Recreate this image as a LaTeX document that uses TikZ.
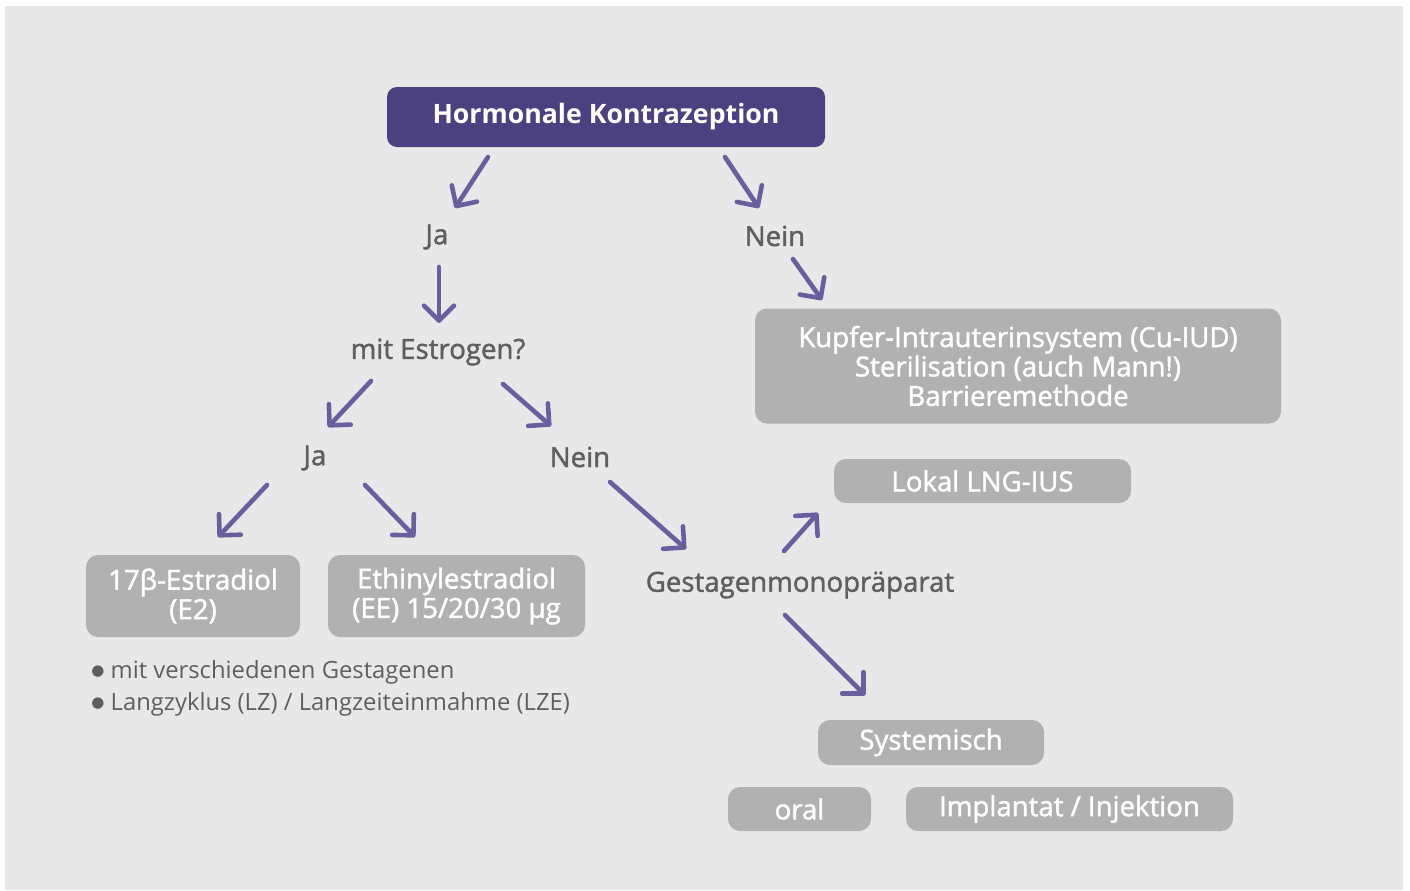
\documentclass[tikz,border=0pt]{standalone}
\usepackage{fontspec}
\setmainfont{Open Sans}
\newfontfamily\semifont[FakeBold=1.6]{Open Sans}
\newfontfamily\symfont{DejaVu Sans}
\usetikzlibrary{arrows.meta,positioning}
\definecolor{bggray}{HTML}{E8E8E8}
\definecolor{boxgray}{HTML}{B1B1B2}
\definecolor{titlepurple}{HTML}{4B4180}
\definecolor{arrowpurple}{HTML}{6A5E9E}
\definecolor{textgray}{HTML}{5F5F5F}
\newcommand{\punkt}{\raisebox{1.3pt}{\symfont\fontsize{7.5}{8}\selectfont ●}}

\begin{document}
\begin{tikzpicture}[
  x=0.5pt, y=-0.5pt,
  lbl/.style={text=textgray, font=\semifont\fontsize{13.8}{14.7}\selectfont, inner sep=0pt},
  box/.style={fill=boxgray, rounded corners=6pt, text=white, align=center, inner sep=0pt,
    font=\semifont\fontsize{13.8}{14.7}\selectfont},
  titlebox/.style={fill=titlepurple, rounded corners=5pt, text=white, inner sep=0pt,
    font=\bfseries\fontsize{13.35}{14.7}\selectfont, minimum width=219pt, minimum height=30pt},
  arr/.style={-{Straight Barb[length=7.5pt,width=15pt,round]}, line width=2.3pt, line cap=round, arrowpurple}
]
\useasboundingbox (0,0) rectangle (1410,890);
\fill[bggray] (5,6) rectangle (1403,890);

% oben
\node[titlebox] (title) at (606,117) {Hormonale Kontrazeption};
\node[lbl] (ja1) at (437,237) {Ja};
\node[lbl] (nein1) at (775,236) {Nein};
\node[box, minimum width=263pt, minimum height=57.5pt] (kupfer) at (1018,366)
  {Kupfer-Intrauterinsystem (Cu-IUD)\\Sterilisation (auch Mann!)\\Barrieremethode};

% mit Estrogen
\node[lbl] (estrogen) at (438,352) {mit Estrogen?};
\node[lbl] (ja2) at (315,458) {Ja};
\node[lbl] (nein2) at (580,457) {Nein};
\node[box, minimum width=107pt, minimum height=41pt] (estradiol) at (193,596) {17β-Estradiol\\(E2)};
\node[box, minimum width=128.5pt, minimum height=41pt] (ethinyl) at (456.5,596) {Ethinylestradiol\\(EE) 15/20/30 µg};
\node[text=textgray, font=\fontsize{11.9}{16}\selectfont, align=left, anchor=west, inner sep=0pt] (hinweis) at (91,688)
  {\punkt\ mit verschiedenen Gestagenen\\\punkt\ Langzyklus (LZ) / Langzeiteinmahme (LZE)};

% Gestagen
\node[lbl] (gestagen) at (800,585) {Gestagenmonopräparat};
\node[box, minimum width=148.5pt, minimum height=22pt] (lokal) at (982.5,481) {Lokal LNG-IUS};
\node[box, minimum width=113pt, minimum height=22.5pt] (systemisch) at (931,742.5) {Systemisch};
\node[box, minimum width=71.5pt, minimum height=22pt] (oral) at (799.5,809) {oral};
\node[box, minimum width=163.5pt, minimum height=22pt] (implantat) at (1069.5,809) {Implantat / Injektion};

% Pfeile
\coordinate (title-ja-a) at (488,157);     \coordinate (title-ja-b) at (455,208);
\coordinate (title-nein-a) at (725,157);   \coordinate (title-nein-b) at (759,208);
\coordinate (ja-estr-a) at (439,267);      \coordinate (ja-estr-b) at (439,323);
\coordinate (nein-kupf-a) at (793,259);    \coordinate (nein-kupf-b) at (822,300);
\coordinate (estr-ja-a) at (371,381);      \coordinate (estr-ja-b) at (328,427);
\coordinate (estr-nein-a) at (503,384);    \coordinate (estr-nein-b) at (551,426);
\coordinate (ja-e2-a) at (267,485);        \coordinate (ja-e2-b) at (218,537);
\coordinate (ja-ee-a) at (365,485);        \coordinate (ja-ee-b) at (415,537);
\coordinate (nein-gest-a) at (610,482);    \coordinate (nein-gest-b) at (686,549);
\coordinate (gest-lokal-a) at (784,551);   \coordinate (gest-lokal-b) at (818,513);
\coordinate (gest-sys-a) at (785,615);     \coordinate (gest-sys-b) at (865,695);

\draw[arr] (title-ja-a) -- (title-ja-b);
\draw[arr] (title-nein-a) -- (title-nein-b);
\draw[arr] (ja-estr-a) -- (ja-estr-b);
\draw[arr] (nein-kupf-a) -- (nein-kupf-b);
\draw[arr] (estr-ja-a) -- (estr-ja-b);
\draw[arr] (estr-nein-a) -- (estr-nein-b);
\draw[arr] (ja-e2-a) -- (ja-e2-b);
\draw[arr] (ja-ee-a) -- (ja-ee-b);
\draw[arr] (nein-gest-a) -- (nein-gest-b);
\draw[arr] (gest-lokal-a) -- (gest-lokal-b);
\draw[arr] (gest-sys-a) -- (gest-sys-b);
\end{tikzpicture}
\end{document}
